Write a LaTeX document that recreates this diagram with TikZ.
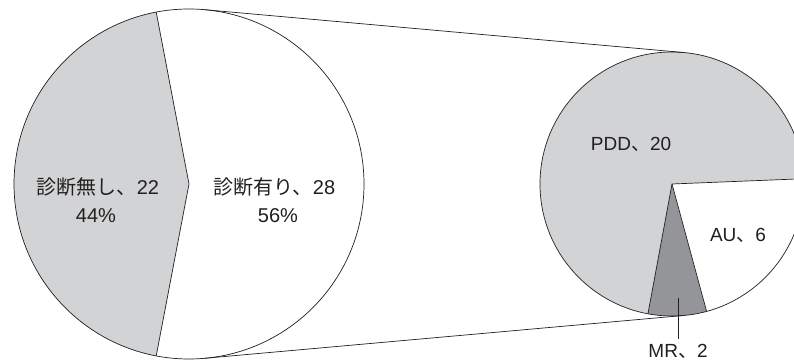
\documentclass[tikz,border=0pt]{standalone}
\usepackage{fontspec}
\setmainfont{Liberation Sans}
\newfontfamily\cjk{Noto Sans CJK JP}
\usetikzlibrary{calc}
\definecolor{lightfill}{HTML}{D1D3D4}
\definecolor{darkfill}{HTML}{939598}
\definecolor{edge}{HTML}{231F20}
\tikzset{
  pieedge/.style={draw=edge, line width=0.7pt},
  lbl/.style={anchor=base, inner sep=0pt, text=edge, font=\fontsize{20}{24}\selectfont},
  slbl/.style={anchor=base, inner sep=0pt, text=edge, font=\fontsize{19}{23}\selectfont},
}
\begin{document}
\begin{tikzpicture}[x=1pt, y=1pt]
\useasboundingbox (0,0) rectangle (794,361);
\clip (0,0) rectangle (794,361);
\fill[white] (0,0) rectangle (794,361);
% centres
\coordinate (bigC) at (189,177);
\coordinate (smallC) at (672,177);
% tangent points of the outer tangents
\coordinate (tA) at ($(bigC)+(84.89:175pt)$);
\coordinate (tB) at ($(smallC)+(84.89:132pt)$);
\coordinate (bA) at ($(bigC)+(-84.89:175pt)$);
\coordinate (bB) at ($(smallC)+(-84.89:132pt)$);
% big pie
\fill[white] (bigC) circle[radius=175pt];
\fill[lightfill] (bigC) -- ($(bigC)+(100.8:175pt)$) arc[start angle=100.8, end angle=259.2, radius=175pt] -- cycle;
\draw[pieedge] ($(bigC)+(100.8:175pt)$) -- (bigC) -- ($(bigC)+(259.2:175pt)$);
\draw[pieedge] (bigC) circle[radius=175pt];
% small pie
\fill[lightfill] (smallC) -- ($(smallC)+(2.3:132pt)$) arc[start angle=2.3, end angle=259.5, radius=132pt] -- cycle;
\fill[darkfill] (smallC) -- ($(smallC)+(-100.5:132pt)$) arc[start angle=-100.5, end angle=-74.8, radius=132pt] -- cycle;
\fill[white] (smallC) -- ($(smallC)+(-74.8:132pt)$) arc[start angle=-74.8, end angle=2.3, radius=132pt] -- cycle;
\draw[pieedge] ($(smallC)+(2.3:132pt)$) -- (smallC) -- ($(smallC)+(-100.5:132pt)$);
\draw[pieedge] (smallC) -- ($(smallC)+(-74.8:132pt)$);
\draw[pieedge] (smallC) circle[radius=132pt];
% connecting tangents
\draw[pieedge] (tA) -- (tB);
\draw[pieedge] (bA) -- (bB);
% labels
\node[lbl] (nodiag) at (98,166) {{\cjk 診断無し、}22};
\node[lbl] (nodiagp) at (96,138) {44\%};
\node[lbl] (diag) at (274.5,166) {{\cjk 診断有り、}28};
\node[lbl] (diagp) at (278,138) {56\%};
\node[slbl] (pdd) at (631,210) {PDD{\cjk 、}20};
\node[slbl] (au) at (738,119) {AU{\cjk 、}6};
\node[slbl] (mr) at (678,4) {MR{\cjk 、}2};
\coordinate (mrtip) at (678,63);
\draw[pieedge] (mrtip) -- ([yshift=5pt]mr.north);
\end{tikzpicture}
\end{document}
